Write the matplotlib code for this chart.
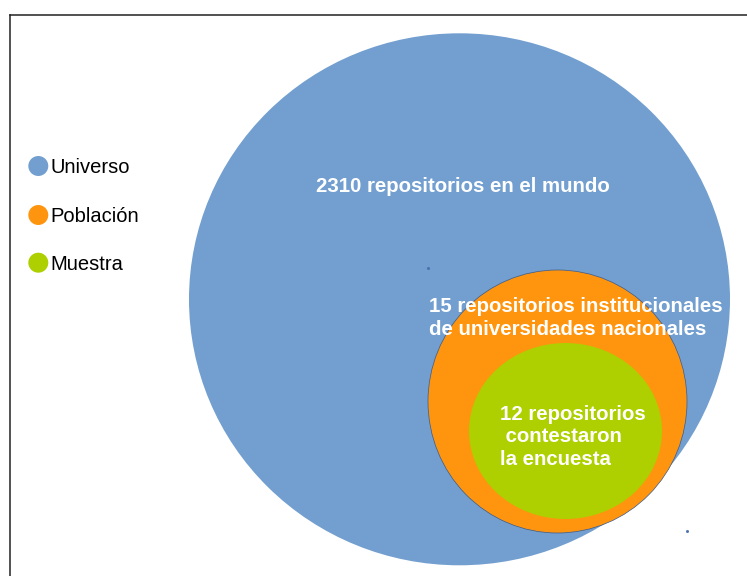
import matplotlib
matplotlib.use("Agg")
import matplotlib.pyplot as plt
from matplotlib.patches import Ellipse

plt.rcParams['font.family'] = ['Liberation Sans', 'DejaVu Sans']

# datos
categorias = ['Universo', 'Población', 'Muestra']
cantidades = [2310, 15, 12]
colores = ['#729fcf', '#ff950e', '#aecf00']
textos = [
    ['2310 repositorios en el mundo'],
    ['15 repositorios institucionales', 'de universidades nacionales'],
    ['12 repositorios', ' contestaron', 'la encuesta'],
]

fig = plt.figure(figsize=(7.47, 5.76), dpi=100)
ax = fig.add_axes([0, 0, 1, 1])
ax.set_xlim(0, 747)
ax.set_ylim(576, 0)
ax.axis('off')

# marco
ax.plot([9.5, 747], [14.5, 14.5], color='#222222', lw=1.1)
ax.plot([9.5, 9.5], [14.5, 576], color='#222222', lw=1.1)

# circulos (centro x, centro y, ancho, alto)
geo = [(459.5, 299.3, 541, 532), (557.5, 401.5, 259, 263), (565.5, 431, 193, 176)]
for (cx, cy, w, h), col, i in zip(geo, colores, range(3)):
    ec = '#3b5a8a' if i == 1 else 'none'
    ax.add_patch(Ellipse((cx, cy), w, h, facecolor=col, edgecolor=ec, lw=0.5))

# textos dentro
estilo = dict(color='white', fontsize=14.7, fontweight='bold', va='baseline')
ax.text(463, 191.7, textos[0][0], ha='center', **estilo)
for j, t in enumerate(textos[1]):
    ax.text(429, 311.7 + j * 23.3, t, ha='left', **estilo)
for j, t in enumerate(textos[2]):
    ax.text(500, 420 + j * 22.5, t, ha='left', **estilo)

# puntitos sueltos
ax.plot([428, 687], [268, 531], ls='none', marker='s', ms=1, color='#4a6fb0')

# leyenda
for k, (cat, col) in enumerate(zip(categorias, colores)):
    y = [166, 215, 262.7][k]
    ax.scatter([38.3], [y], s=207, color=col, edgecolors='none')
    ax.text(50.7, y + 7.3, cat, fontsize=14.5, color='black', va='baseline', ha='left')

fig.savefig('out.png', dpi=100)
